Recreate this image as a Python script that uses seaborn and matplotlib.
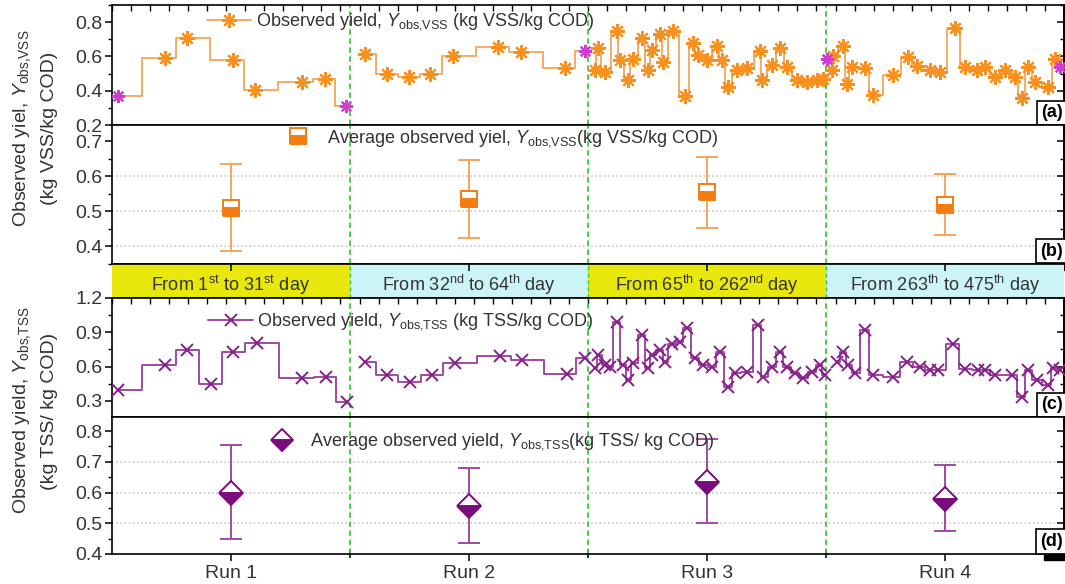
import numpy as np
import pandas as pd
import matplotlib
matplotlib.use("Agg")
import matplotlib.pyplot as plt
import seaborn as sns
from matplotlib.lines import Line2D
from matplotlib.patches import Rectangle
from matplotlib.ticker import MultipleLocator, FixedLocator

# ---------------- data ----------------
runs = ["Run 1", "Run 2", "Run 3", "Run 4"]
periods = [r"From 1$^{\rm st}$ to 31$^{\rm st}$ day",
           r"From 32$^{\rm nd}$ to 64$^{\rm th}$ day",
           r"From 65$^{\rm th}$ to 262$^{\rm nd}$ day",
           r"From 263$^{\rm th}$ to 475$^{\rm th}$ day"]

# (a) observed yield VSS (x in run units: run k spans [k-1, k])
vss_x = [0.223, 0.314, 0.510, 0.601, 0.797, 0.895,
         1.063, 1.154, 1.249, 1.336, 1.434, 1.623, 1.717, 1.903,
         2.029, 2.042, 2.071, 2.122, 2.134, 2.168, 2.189, 2.227, 2.252, 2.269,
         2.303, 2.315, 2.357, 2.408, 2.441, 2.462, 2.500, 2.542, 2.563, 2.588,
         2.626, 2.668, 2.723, 2.731, 2.773, 2.807, 2.836, 2.878, 2.920, 2.962, 2.987,
         3.024, 3.029, 3.071, 3.087, 3.108, 3.164, 3.197, 3.282, 3.345, 3.381,
         3.437, 3.479, 3.542, 3.584, 3.633, 3.668, 3.710, 3.752, 3.794, 3.822,
         3.850, 3.878, 3.934, 3.962]
vss_y = [0.59, 0.71, 0.58, 0.405, 0.45, 0.47,
         0.614, 0.50, 0.48, 0.50, 0.60, 0.656, 0.627, 0.53,
         0.52, 0.65, 0.51, 0.75, 0.58, 0.46, 0.585, 0.71, 0.52, 0.64,
         0.73, 0.57, 0.75, 0.37, 0.68, 0.61, 0.58, 0.66, 0.58, 0.42,
         0.52, 0.53, 0.63, 0.46, 0.55, 0.65, 0.54, 0.46, 0.45, 0.46, 0.47,
         0.52, 0.605, 0.66, 0.44, 0.54, 0.53, 0.376, 0.49, 0.595, 0.547,
         0.52, 0.51, 0.767, 0.54, 0.52, 0.54, 0.48, 0.52, 0.48, 0.357,
         0.54, 0.45, 0.424, 0.585]
vss_edge_x = [0.025, 0.983, 1.987, 3.003, 3.983]
vss_edge_y = [0.37, 0.31, 0.633, 0.585, 0.54]

# (b) average observed yield VSS
vss_mean = [0.511, 0.535, 0.557, 0.518]
vss_low = [0.388, 0.425, 0.454, 0.432]
vss_high = [0.637, 0.646, 0.657, 0.606]

# (c) observed yield TSS
tss_x = [0.026, 0.223, 0.316, 0.416, 0.510, 0.608, 0.797, 0.899, 0.986,
         1.063, 1.154, 1.252, 1.343, 1.441, 1.630, 1.721, 1.911, 1.987,
         2.029, 2.043, 2.071, 2.092, 2.121, 2.148, 2.169, 2.190, 2.226, 2.253,
         2.268, 2.303, 2.324, 2.352, 2.387, 2.415, 2.450, 2.485, 2.520, 2.555,
         2.590, 2.618, 2.667, 2.716, 2.737, 2.772, 2.807, 2.835, 2.870, 2.905,
         2.940, 2.975, 2.995,
         3.045, 3.073, 3.094, 3.122, 3.164, 3.199, 3.283, 3.339, 3.395, 3.437,
         3.472, 3.535, 3.584, 3.640, 3.668, 3.710, 3.780, 3.822, 3.850, 3.885,
         3.934, 3.955, 3.983]
tss_y = [0.395, 0.614, 0.745, 0.448, 0.73, 0.81, 0.498, 0.512, 0.293,
         0.643, 0.527, 0.468, 0.527, 0.63, 0.693, 0.658, 0.535, 0.672,
         0.585, 0.70, 0.614, 0.60, 0.993, 0.614, 0.483, 0.63, 0.876, 0.585,
         0.70, 0.745, 0.643, 0.80, 0.818, 0.935, 0.672, 0.614, 0.60, 0.73,
         0.424, 0.541, 0.555, 0.964, 0.512, 0.60, 0.73, 0.60, 0.541, 0.498,
         0.555, 0.614, 0.527,
         0.643, 0.73, 0.614, 0.541, 0.92, 0.527, 0.506, 0.643, 0.594, 0.57,
         0.57, 0.80, 0.576, 0.57, 0.57, 0.527, 0.527, 0.337, 0.57, 0.483,
         0.44, 0.585, 0.57]

# (d) average observed yield TSS
tss_mean = [0.599, 0.557, 0.634, 0.579]
tss_low = [0.448, 0.437, 0.500, 0.475]
tss_high = [0.755, 0.679, 0.776, 0.690]

run_bounds = [1, 2, 3]

# ---------------- style ----------------
sns.set_theme(style="ticks")
plt.rcParams["font.family"] = ["Liberation Sans", "DejaVu Sans"]
plt.rcParams["mathtext.fontset"] = "custom"
plt.rcParams["mathtext.rm"] = "Liberation Sans"
plt.rcParams["mathtext.it"] = "Liberation Sans:italic"
plt.rcParams["mathtext.bf"] = "Liberation Sans:bold"
plt.rcParams["axes.edgecolor"] = "black"
plt.rcParams["axes.linewidth"] = 1.2

TXT = "#333333"
ORANGE = "#F7901E"
ORANGE_LINE = "#F2A65A"
MAGENTA = "#D23BD2"
PURPLE = "#86208A"
PURPLE_LINE = "#9E4CA0"
DPURPLE = "#7B0C7B"
GREEN = "#3CC83C"
YELLOW = "#E8E80C"
CYAN = "#CCF4F8"

W, H = 1065, 584
fig = plt.figure(figsize=(W / 100, H / 100), dpi=100)


def px_axes(top, bottom, left=112, right=1064):
    return fig.add_axes([left / W, 1 - bottom / H, (right - left) / W, (bottom - top) / H])


ax_a = px_axes(5, 125)
ax_b = px_axes(125, 264)
ax_band = px_axes(264, 298)
ax_c = px_axes(298, 417)
ax_d = px_axes(417, 554)

run_pos = np.arange(len(runs)) + 0.5

SUB_VSS = r"$\mathit{Y}_{\rm obs{,}VSS}$"
SUB_TSS = r"$\mathit{Y}_{\rm obs{,}TSS}$"


def style_y(ax, lim, major, minor):
    ax.set_xlim(0, 4)
    ax.set_ylim(*lim)
    ax.yaxis.set_major_locator(FixedLocator(major))
    ax.yaxis.set_minor_locator(MultipleLocator(minor))
    ax.yaxis.set_major_formatter(matplotlib.ticker.FormatStrFormatter("%.1f"))
    ax.tick_params(axis="y", which="both", left=True, right=False, direction="out",
                   labelsize=14, labelcolor=TXT, pad=2, color="black")
    ax.tick_params(axis="y", which="major", length=5, width=1.1)
    ax.tick_params(axis="y", which="minor", length=3, width=1.0)
    sec = ax.secondary_yaxis("right")
    sec.yaxis.set_major_locator(FixedLocator(major))
    sec.yaxis.set_minor_locator(MultipleLocator(minor))
    sec.tick_params(which="both", direction="in", labelright=False, color="black")
    sec.tick_params(which="major", length=5, width=1.1)
    sec.tick_params(which="minor", length=3, width=1.0)
    for b in run_bounds:
        ax.axvline(b, color=GREEN, ls=(0, (3, 2)), lw=1.3, zorder=1)


def top_ticks(ax):
    ax.xaxis.set_major_locator(MultipleLocator(0.08))
    ax.tick_params(axis="x", which="major", bottom=False, top=True, direction="in",
                   length=4, width=1.0, labelbottom=False, labeltop=False, color="black")


def panel_label(ax, s):
    ax.text(0.9985, 0.03, s, transform=ax.transAxes, ha="right", va="bottom",
            fontsize=13, fontweight="bold", color="black", zorder=6,
            bbox=dict(boxstyle="square,pad=0.2", fc="white", ec="black", lw=1.2))
    ax.add_patch(Rectangle((0.979, -0.045), 0.021, 0.045, transform=ax.transAxes,
                           color="black", clip_on=False, zorder=7))


def make_df(xs, ys):
    df = pd.DataFrame({"x": xs, "y": ys})
    df["run"] = np.floor(df["x"]).astype(int)
    return df.sort_values("x").reset_index(drop=True)


# ---------------- (a) ----------------
style_y(ax_a, (0.2, 0.9), [0.2, 0.4, 0.6, 0.8], 0.1)
top_ticks(ax_a)
df_a = make_df(vss_x + vss_edge_x, vss_y + vss_edge_y)
sns.lineplot(data=df_a, x="x", y="y", units="run", estimator=None, drawstyle="steps-mid",
             color=ORANGE_LINE, lw=1.3, ax=ax_a, legend=False, zorder=2)
ax_a.plot(vss_x, vss_y, ls="none", marker=(8, 2, 0), ms=10.5, mew=1.6, color=ORANGE, zorder=3)
ax_a.plot(vss_edge_x, vss_edge_y, ls="none", marker=(8, 2, 0), ms=9.5, mew=1.6, color=MAGENTA, zorder=3)
h_a = Line2D([], [], color=ORANGE_LINE, lw=1.3, marker=(8, 2, 0), ms=10.5, mew=1.6,
             markeredgecolor=ORANGE)
ax_a.legend([h_a], ["Observed yield, " + SUB_VSS + " (kg VSS/kg COD)"],
            loc="center left", bbox_to_anchor=(0.0924, 0.858), borderaxespad=0,
            frameon=False, fontsize=13, handlelength=2.4, handletextpad=0.3,
            labelcolor=TXT)
panel_label(ax_a, "(a)")
ax_a.set_xlabel("")
ax_a.set_ylabel("")

# ---------------- (b) ----------------
style_y(ax_b, (0.35, 0.747), [0.4, 0.5, 0.6, 0.7], 0.05)
ax_b.tick_params(axis="x", bottom=False, top=False, labelbottom=False)
for g in [0.4, 0.5, 0.6]:
    ax_b.axhline(g, color="#C8C8C8", ls=(0, (1, 1.5)), lw=1.2, zorder=0)
vm = np.array(vss_mean)
ax_b.errorbar(run_pos, vm, yerr=[vm - np.array(vss_low), np.array(vss_high) - vm],
              fmt="s", ms=12, fillstyle="bottom", mfc="#F57C10", markerfacecoloralt="white",
              mec="#F57C10", mew=1.4, ecolor=ORANGE_LINE, elinewidth=1.4, capsize=8,
              capthick=1.4, zorder=3)
h_b = Line2D([], [], ls="none", marker="s", ms=12, fillstyle="bottom", mfc="#F57C10",
             markerfacecoloralt="white", mec="#F57C10", mew=1.4)
ax_b.legend([h_b], ["Average observed yiel, " + SUB_VSS + "(kg VSS/kg COD)"],
            loc="center left", bbox_to_anchor=(0.1727, 0.906), borderaxespad=0,
            frameon=False, fontsize=13, handlelength=1.6, handletextpad=0.8,
            labelcolor=TXT)
panel_label(ax_b, "(b)")

# ---------------- band ----------------
ax_band.set_xlim(0, 4)
ax_band.set_ylim(0, 1)
band_colors = [YELLOW, CYAN, YELLOW, CYAN]
for i, (lab, col) in enumerate(zip(periods, band_colors)):
    ax_band.axvspan(i, i + 1, color=col, lw=0, zorder=0)
    ax_band.text(run_pos[i], 0.2, lab, ha="center", va="baseline", fontsize=13, color=TXT)
for b in run_bounds:
    ax_band.axvline(b, color=GREEN, ls=(0, (3, 2)), lw=1.0, zorder=1)
ax_band.set_yticks([])
ax_band.set_xticks(run_pos)
ax_band.tick_params(axis="x", top=True, bottom=False, direction="in", length=5,
                    width=1.1, labeltop=False, labelbottom=False, color="black")
ax_band.spines["left"].set_visible(False)
ax_band.spines["right"].set_visible(False)

# ---------------- (c) ----------------
style_y(ax_c, (0.16, 1.2), [0.3, 0.6, 0.9, 1.2], 0.15)
top_ticks(ax_c)
df_c = make_df(tss_x, tss_y)
sns.lineplot(data=df_c, x="x", y="y", units="run", estimator=None, drawstyle="steps-mid",
             color=PURPLE_LINE, lw=1.4, ax=ax_c, legend=False, zorder=2)
ax_c.plot(tss_x, tss_y, ls="none", marker="x", ms=8, mew=1.4, color=PURPLE, zorder=3)
h_c = Line2D([], [], color=PURPLE_LINE, lw=1.4, marker="x", ms=8, mew=1.4,
             markeredgecolor=PURPLE)
ax_c.legend([h_c], ["Observed yield, " + SUB_TSS + " (kg TSS/kg COD)"],
            loc="center left", bbox_to_anchor=(0.0933, 0.798), borderaxespad=0,
            frameon=False, fontsize=13, handlelength=2.5, handletextpad=0.22,
            labelcolor=TXT)
panel_label(ax_c, "(c)")
ax_c.set_xlabel("")
ax_c.set_ylabel("")

# ---------------- (d) ----------------
style_y(ax_d, (0.4, 0.846), [0.4, 0.5, 0.6, 0.7, 0.8], 0.05)
for g in [0.5, 0.6, 0.7]:
    ax_d.axhline(g, color="#C8C8C8", ls=(0, (1, 1.5)), lw=1.2, zorder=0)
tm = np.array(tss_mean)
ax_d.errorbar(run_pos, tm, yerr=[tm - np.array(tss_low), np.array(tss_high) - tm],
              fmt="D", ms=12, fillstyle="bottom", mfc=DPURPLE, markerfacecoloralt="white",
              mec=DPURPLE, mew=1.4, ecolor=PURPLE_LINE, elinewidth=1.4, capsize=8,
              capthick=1.4, zorder=3)
h_d = Line2D([], [], ls="none", marker="D", ms=11.5, fillstyle="bottom", mfc=DPURPLE,
             markerfacecoloralt="white", mec=DPURPLE, mew=1.4)
ax_d.legend([h_d], ["Average observed yield, " + SUB_TSS + "(kg TSS/ kg COD)"],
            loc="center left", bbox_to_anchor=(0.156, 0.818), borderaxespad=0,
            frameon=False, fontsize=13, handlelength=1.6, handletextpad=0.75,
            labelcolor=TXT)
ax_d.set_xticks(run_pos)
ax_d.set_xticklabels(runs)
ax_d.xaxis.set_minor_locator(FixedLocator(run_bounds))
ax_d.tick_params(axis="x", which="major", bottom=True, top=False, direction="out",
                 length=5, width=1.1, labelsize=14, labelcolor=TXT, pad=3, color="black")
ax_d.tick_params(axis="x", which="minor", bottom=True, top=False, direction="inout",
                 length=6, width=1.1, color="black")
panel_label(ax_d, "(d)")

# ---------------- y labels ----------------
fig.text(22 / W, 1 - 128 / H, "Observed yiel, " + SUB_VSS, rotation=90,
         ha="center", va="center", fontsize=14, color=TXT)
fig.text(50 / W, 1 - 128 / H, "(kg VSS/kg COD)", rotation=90,
         ha="center", va="center", fontsize=14, color=TXT)
fig.text(22 / W, 1 - 410 / H, "Observed yield, " + SUB_TSS, rotation=90,
         ha="center", va="center", fontsize=14, color=TXT)
fig.text(50 / W, 1 - 411 / H, "(kg TSS/ kg COD)", rotation=90,
         ha="center", va="center", fontsize=14, color=TXT)

fig.savefig("out.png", dpi=100)
